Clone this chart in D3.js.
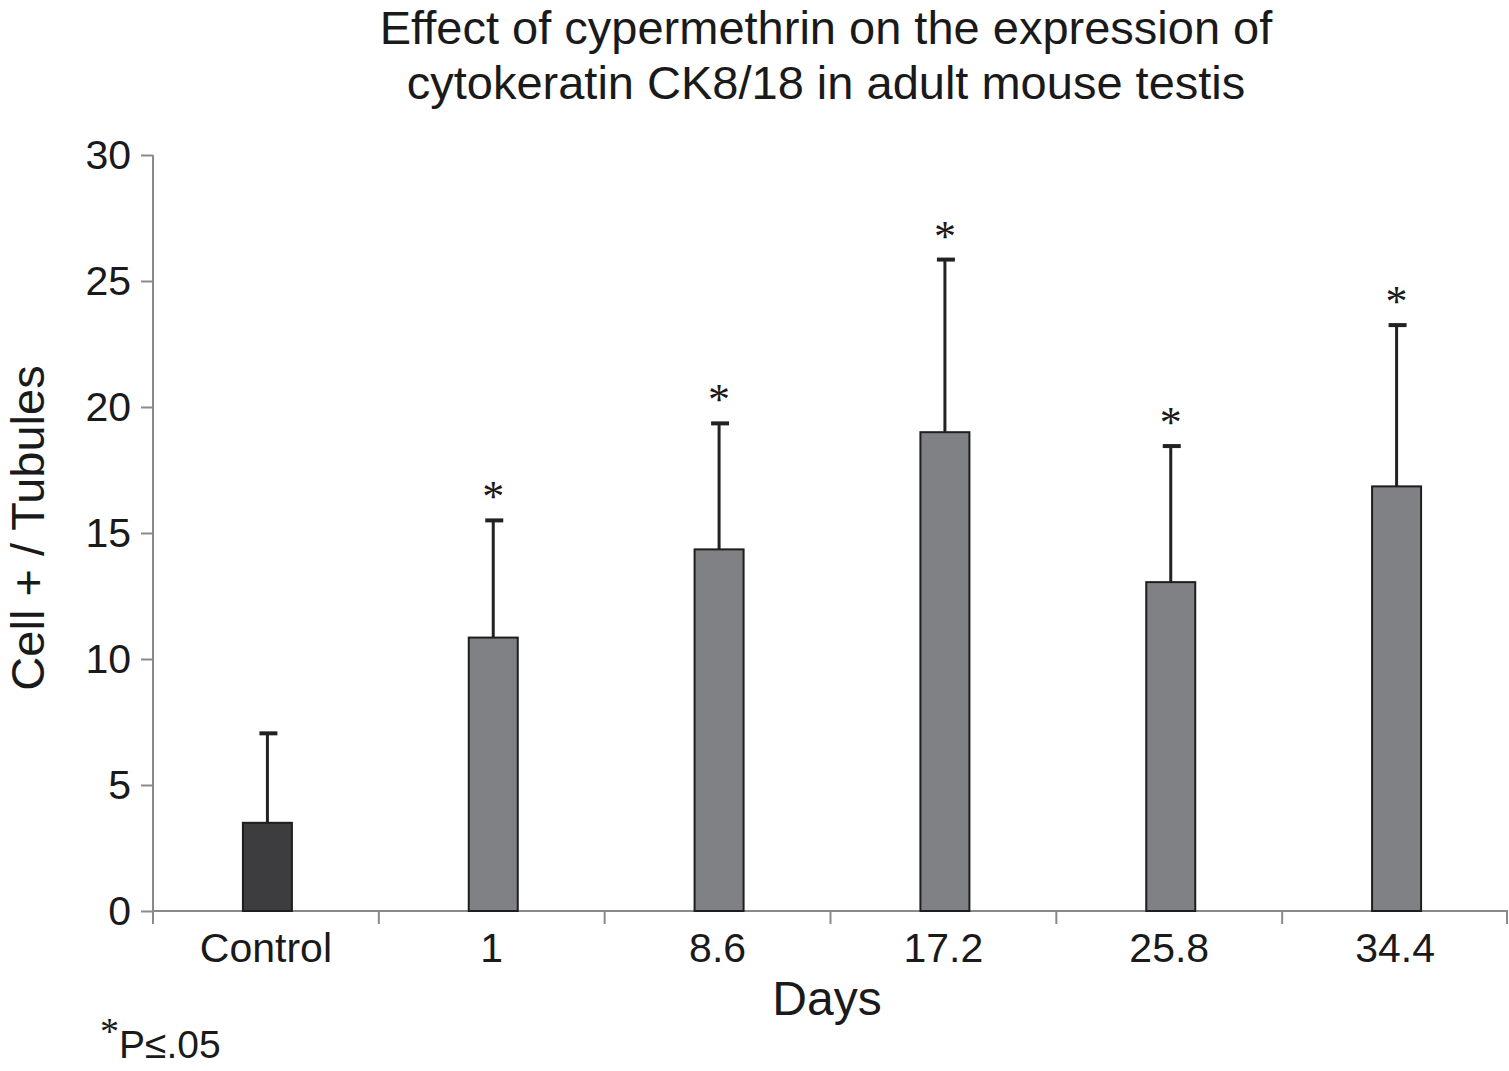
<!DOCTYPE html>
<html>
<head>
<meta charset="utf-8">
<script src="https://cdn.jsdelivr.net/npm/d3@7"></script>
<style>
  body { margin: 0; background: #fff; }
  svg { display: block; }
  text { font-family: "Liberation Sans", Arial, sans-serif; fill: #1a1a1a; }
</style>
</head>
<body>
<div id="chart"></div>
<script>
// data
var categories = ["Control", "1", "8.6", "17.2", "25.8", "34.4"]
var means = [3.5, 10.85, 14.35, 19.0, 13.05, 16.85]
var upperErr = [7.05, 15.5, 19.35, 25.85, 18.45, 23.25]
var significant = [false, true, true, true, true, true]
var yTicks = [0, 5, 10, 15, 20, 25, 30]

var width = 1509, height = 1071
var margin = {left: 153, right: 1, top: 155, bottom: 160}

var svg = d3.select("#chart").append("svg")
    .attr("width", width)
    .attr("height", height)

var x = d3.scaleBand()
    .domain(categories)
    .range([margin.left, width - margin.right])
    .paddingInner(0)

var y = d3.scaleLinear()
    .domain([0, 30])
    .range([height - margin.bottom, margin.top])

var barW = 49
function cx(d) { return x(d) + x.bandwidth() / 2 + 1.5 }

// y axis
var yAxis = svg.append("g")
    .attr("transform", "translate(" + margin.left + ",0)")
    .call(d3.axisLeft(y).tickValues(yTicks).tickSize(12).tickPadding(10))
yAxis.selectAll("line, path").attr("stroke", "#8a8a8a").attr("stroke-width", 2)
yAxis.selectAll("text").style("font-size", "41px").attr("fill", "#1a1a1a")
yAxis.select(".domain").attr("d", "M0," + y(30) + "V" + y(0))

// x axis line + category boundary ticks
var xg = svg.append("g")
xg.append("line")
    .attr("x1", margin.left).attr("x2", width - margin.right)
    .attr("y1", y(0)).attr("y2", y(0))
    .attr("stroke", "#8a8a8a").attr("stroke-width", 2)
var bounds = categories.map(function(c){ return x(c) }).concat([x(categories[categories.length-1]) + x.bandwidth()])
xg.selectAll(".bt").data(bounds).enter().append("line")
    .attr("x1", function(d){ return Math.min(d, width - 2) })
    .attr("x2", function(d){ return Math.min(d, width - 2) })
    .attr("y1", y(0)).attr("y2", y(0) + 13)
    .attr("stroke", "#8a8a8a").attr("stroke-width", 2)
xg.selectAll(".xl").data(categories).enter().append("text")
    .attr("x", function(d){ return x(d) + x.bandwidth() / 2 })
    .attr("y", y(0) + 51)
    .attr("text-anchor", "middle")
    .style("font-size", "41px")
    .text(function(d){ return d })

// error bars (upper only)
var eb = svg.append("g")
eb.selectAll(".stem").data(categories).enter().append("line")
    .attr("x1", cx).attr("x2", cx)
    .attr("y1", function(d, i){ return y(means[i]) })
    .attr("y2", function(d, i){ return y(upperErr[i]) })
    .attr("stroke", "#222").attr("stroke-width", 3)
eb.selectAll(".cap").data(categories).enter().append("line")
    .attr("x1", function(d){ return cx(d) - 8 })
    .attr("x2", function(d){ return cx(d) + 10 })
    .attr("y1", function(d, i){ return y(upperErr[i]) })
    .attr("y2", function(d, i){ return y(upperErr[i]) })
    .attr("stroke", "#222").attr("stroke-width", 4)

// bars
svg.append("g").selectAll("rect").data(categories).enter().append("rect")
    .attr("x", function(d){ return cx(d) - barW / 2 })
    .attr("y", function(d, i){ return y(means[i]) })
    .attr("width", barW)
    .attr("height", function(d, i){ return y(0) - y(means[i]) })
    .attr("fill", function(d, i){ return i === 0 ? "#3d3d3f" : "#808184" })
    .attr("stroke", "#1e1e1e").attr("stroke-width", 2)

// significance stars
svg.append("g").selectAll("text").data(categories.filter(function(d, i){ return significant[i] })).enter().append("text")
    .attr("x", function(d){ return cx(d) })
    .attr("y", function(d){ return y(upperErr[categories.indexOf(d)]) - 9 })
    .attr("text-anchor", "middle")
    .style("font-family", "'Liberation Serif', 'Times New Roman', serif")
    .style("font-size", "44px")
    .text("*")

// titles
svg.append("text")
    .attr("x", 826).attr("y", 44)
    .attr("text-anchor", "middle")
    .style("font-size", "47px")
    .text("Effect of cypermethrin on the expression of")
svg.append("text")
    .attr("x", 826).attr("y", 99)
    .attr("text-anchor", "middle")
    .style("font-size", "47px")
    .text("cytokeratin CK8/18 in adult mouse testis")

svg.append("text")
    .attr("transform", "translate(44," + ((y(0) + y(30)) / 2 - 5) + ") rotate(-90)")
    .attr("text-anchor", "middle")
    .style("font-size", "47px")
    .text("Cell + / Tubules")

svg.append("text")
    .attr("x", 827).attr("y", 1015)
    .attr("text-anchor", "middle")
    .style("font-size", "48px")
    .text("Days")

var note = svg.append("text").attr("x", 100).attr("y", 1058).style("font-size", "39px")
note.append("tspan").attr("dy", -14).style("font-family", "'Liberation Serif', serif").style("font-size", "38px").text("*")
note.append("tspan").attr("dy", 14).text("P≤.05")
</script>
</body>
</html>
